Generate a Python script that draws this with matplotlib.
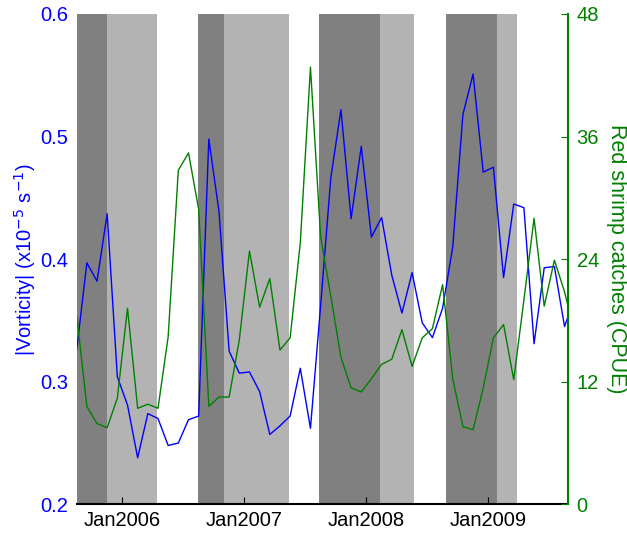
import numpy as np
import matplotlib
matplotlib.use("Agg")
import matplotlib.pyplot as plt

plt.rcParams['font.family'] = ['Liberation Sans', 'DejaVu Sans']

# monthly samples, Aug 2005 .. Sep 2009 (x = months since Jan 2006, mid-month)
months = np.arange(-5, 45) + 0.5

vorticity = [0.326, 0.397, 0.382, 0.437, 0.304, 0.281, 0.238, 0.274, 0.270, 0.248,
             0.250, 0.269, 0.272, 0.498, 0.439, 0.325, 0.307, 0.308, 0.292, 0.257,
             0.264, 0.272, 0.311, 0.262, 0.362, 0.466, 0.522, 0.433, 0.492, 0.418,
             0.434, 0.387, 0.356, 0.389, 0.348, 0.336, 0.360, 0.410, 0.518, 0.551,
             0.471, 0.475, 0.385, 0.445, 0.442, 0.331, 0.393, 0.394, 0.345, 0.369]

cpue = [18.5, 9.6, 7.9, 7.5, 10.4, 19.2, 9.4, 9.8, 9.4, 16.4,
        32.7, 34.4, 28.9, 9.6, 10.5, 10.5, 16.1, 24.8, 19.3, 22.1,
        15.1, 16.3, 25.6, 42.8, 26.2, 20.4, 14.4, 11.4, 11.0, 12.3,
        13.7, 14.2, 17.1, 13.5, 16.3, 17.2, 21.5, 12.3, 7.6, 7.3,
        11.4, 16.3, 17.6, 12.2, 20.0, 28.0, 19.4, 23.9, 20.8, 16.7]

# shaded periods (start, end) in months since Jan 2006
dark_periods = [(-4.5, -1.55), (7.45, 9.97), (19.35, 25.35), (31.83, 36.85)]
light_periods = [(-1.55, 3.45), (9.97, 16.4), (25.35, 28.68), (36.85, 38.82)]

tick_pos = [0, 12, 24, 36]
tick_labels = ['Jan2006', 'Jan2007', 'Jan2008', 'Jan2009']

fig = plt.figure(figsize=(6.27, 5.38), dpi=100)
ax = fig.add_axes([0.1223, 0.0626, 0.7841, 0.9114])

for a, b in dark_periods:
    ax.axvspan(a, b, color='#808080', lw=0, zorder=0)
for a, b in light_periods:
    ax.axvspan(a, b, color='#b3b3b3', lw=0, zorder=0)

ax.plot(months, vorticity, color='blue', lw=1.0, zorder=3)
ax.set_xlim(-4.5, 43.87)
ax.set_ylim(0.2, 0.6)
ax.set_yticks([0.2, 0.3, 0.4, 0.5, 0.6])
ax.tick_params(axis='y', colors='blue', labelsize=14.5, length=0, pad=6)
ax.set_ylabel('|Vorticity| (x10$^{-5}$ s$^{-1}$)', color='blue', fontsize=14.5, labelpad=2)
ax.set_xticks(tick_pos)
ax.set_xticklabels(tick_labels)
ax.tick_params(axis='x', direction='in', length=5, labelsize=14.5, pad=5)
for s in ['top', 'right', 'left']:
    ax.spines[s].set_visible(False)
ax.spines['bottom'].set_linewidth(1.5)

ax2 = ax.twinx()
ax2.plot(months, cpue, color='green', lw=1.0, zorder=3)
ax2.set_ylim(0, 48)
ax2.set_yticks([0, 12, 24, 36, 48])
ax2.tick_params(axis='y', colors='green', direction='in', length=5, labelsize=14.5, pad=6)
ax2.set_ylabel('Red shrimp catches (CPUE)', color='green', fontsize=15.5,
               rotation=270, va='bottom', labelpad=5)
for s in ['top', 'left', 'bottom']:
    ax2.spines[s].set_visible(False)
ax2.spines['right'].set_color('green')
ax2.spines['right'].set_linewidth(1.5)

fig.savefig('out.png', dpi=100)
